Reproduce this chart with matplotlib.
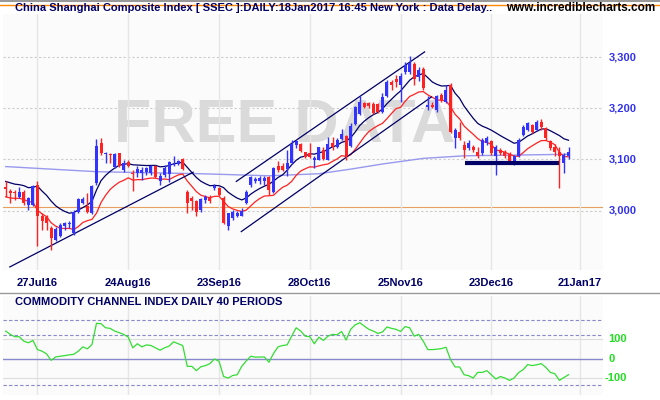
import matplotlib.pyplot as plt
from matplotlib.patches import Rectangle
import numpy as np

plt.rcParams['font.family'] = ['Liberation Sans', 'DejaVu Sans']

# daily OHLC, one row per trading day from 18Jul16 to 18Jan17
opens = [3047,3038,3037,3026,3037,3011,3011,3050,2990,2987,
         2966,2942,2950,2969,2974,2956,2998,3014,3009,2995,
         3054,3133,3110,3111,3086,3112,3080,3094,3074,3073,
         3073,3076,3073,3087,3057,3070,3072,3089,3091,3100,
         3037,3024,3018,3001,3020,3027,3044,3044,3024,2969,
         2985,2989,2990,3015,3050,3057,3057,3058,3065,3036,
         3087,3087,3081,3093,3128,3130,3114,3112,3099,3099,
         3119,3099,3132,3125,3140,3146,3126,3169,3189,3210,
         3211,3209,3209,3192,3223,3252,3258,3245,3271,3271,
         3286,3260,3277,3203,3206,3197,3226,3213,3245,3141,
         3154,3128,3122,3125,3115,3112,3132,3135,3106,3119,
         3115,3111,3093,3106,3148,3158,3167,3158,3174,3161,
         3135,3125,3115,3093,3106]
closes = [3043,3035,3035,3037,3014,3024,3048,2989,2979,2976,
          2946,2964,2972,2975,2976,2998,3022,3022,2998,3048,
          3126,3112,3112,3108,3110,3087,3093,3087,3072,3081,
          3080,3083,3087,3065,3068,3083,3094,3092,3096,3081,
          3014,3018,2998,3022,3027,3018,3048,3031,2976,2995,
          2997,2996,3000,3037,3065,3061,3063,3063,3041,3083,
          3080,3080,3093,3130,3135,3117,3104,3104,3102,3124,
          3101,3130,3125,3137,3150,3107,3165,3202,3213,3203,
          3204,3190,3192,3221,3252,3245,3252,3262,3284,3288,
          3258,3275,3239,3206,3203,3223,3216,3236,3154,3158,
          3141,3119,3132,3119,3106,3138,3141,3112,3125,3112,
          3106,3096,3106,3138,3164,3171,3154,3174,3164,3141,
          3122,3115,3106,3109,3115]
highs = [3057,3042,3040,3046,3040,3027,3050,3057,2995,2992,
         2969,2968,2975,2977,2979,3002,3024,3027,3034,3050,
         3139,3141,3115,3112,3112,3113,3099,3098,3079,3087,
         3086,3086,3089,3089,3073,3089,3096,3107,3099,3102,
         3040,3029,3021,3024,3031,3031,3052,3046,3028,2996,
         3002,3000,3005,3041,3067,3065,3067,3067,3068,3086,
         3096,3093,3119,3138,3138,3132,3115,3132,3107,3125,
         3124,3143,3144,3141,3159,3148,3171,3204,3223,3213,
         3213,3213,3211,3230,3255,3256,3265,3268,3291,3302,
         3291,3281,3281,3223,3213,3226,3229,3245,3249,3161,
         3174,3135,3138,3128,3125,3141,3145,3138,3128,3122,
         3119,3115,3109,3141,3167,3174,3169,3177,3178,3164,
         3138,3130,3125,3112,3125]
lows = [3027,3014,3021,3024,3011,3001,3009,2930,2963,2963,
        2923,2940,2948,2962,2966,2953,2995,3013,2996,2994,
        3050,3109,3093,3093,3083,3085,3076,3086,3039,3065,
        3060,3070,3070,3063,3050,3065,3055,3087,3089,3080,
        2996,3002,2990,2998,3015,3015,3041,3028,2974,2963,
        2982,2987,2989,3013,3047,3054,3052,3050,3031,3034,
        3076,3078,3068,3091,3122,3115,3102,3102,3083,3098,
        3099,3098,3119,3122,3137,3098,3124,3167,3187,3200,
        3200,3189,3190,3190,3221,3235,3242,3213,3266,3266,
        3245,3253,3236,3197,3200,3193,3213,3210,3151,3122,
        3138,3102,3119,3115,3102,3109,3128,3109,3070,3109,
        3102,3093,3090,3104,3145,3156,3152,3156,3158,3138,
        3119,3106,3044,3073,3100]
cci = [143,126,114,114,91,83,95,48,40,26,
       -7,10,14,17,21,24,40,62,52,74,
       183,181,160,157,143,135,126,112,57,78,
       62,72,69,57,45,57,66,88,78,69,
       -38,-38,-60,-40,-34,-24,0,-12,-90,-98,
       -85,-81,-38,-10,14,9,10,10,-17,28,
       62,69,72,117,160,143,117,114,78,112,
       95,117,126,124,141,97,152,175,186,169,
       152,143,131,138,164,157,152,141,166,160,
       117,126,91,48,48,50,53,60,-3,-41,
       -41,-81,-86,-98,-69,-69,-60,-81,-103,-90,
       -98,-110,-98,-70,-55,-29,-34,-30,-24,-43,
       -69,-76,-110,-95,-81]
# long moving average read at a few days
ma_days = [0, 20, 43, 58, 69, 76, 83, 92, 101, 124]
ma_vals = [3086, 3076, 3072, 3068, 3072, 3081, 3091, 3102, 3107, 3110]

tick_days = [7, 27, 47, 67, 87, 107, 126.5]
tick_labels = ["27Jul16", "24Aug16", "23Sep16", "28Oct16", "25Nov16", "23Dec16", "21Jan17"]

navy = "#000066"
blue = "#3333ff"
red = "#ff2222"

fig = plt.figure(figsize=(6.6, 4), dpi=100)
fig.patch.set_facecolor("white")
W, H = 660, 400
ax = fig.add_axes([3 / W, 1 - 270 / H, 600 / W, 256 / H])
ax2 = fig.add_axes([3 / W, 1 - 395 / H, 600 / W, 99 / H])
for a in (ax, ax2):
    a.set_facecolor("#fbfbfb")
    for s in a.spines.values():
        s.set_visible(False)
    a.set_xlim(-0.6, 131.6)
    a.set_xticks(tick_days)
    a.tick_params(length=0)
    a.grid(axis="x", color="#e6e6e6", lw=1)
    a.set_yticks([])

x = np.arange(len(closes))
o, c, h, l = map(np.array, (opens, closes, highs, lows))

# moving averages of highs and lows
def ema(v, n):
    out = [v[0]]
    k = 2 / (n + 1)
    for val in v[1:]:
        out.append(out[-1] + k * (val - out[-1]))
    return np.array(out)

ax.set_ylim(2884, 3384)
for lev in [3000, 3100, 3200, 3300]:
    ax.axhline(lev, color="#cccccc", lw=0.8, ls=(0, (2, 2)), zorder=0)
ax.text(0.47, 0.56, "FREE DATA", transform=ax.transAxes, ha="center", va="center",
        fontsize=44, fontweight="bold", color="#dadada", zorder=0)
ax.axhline(3007, color="#e8a060", lw=0.8, zorder=1)
ax.plot(ma_days, ma_vals, color="#9999ee", lw=1, zorder=2)
ax.plot(x, ema(h, 10), color=navy, lw=0.9, zorder=3)
ax.plot(x, ema(l, 10), color=red, lw=0.9, zorder=3)

for i in x:
    col = blue if c[i] >= o[i] else red
    ax.vlines(i, l[i], h[i], color=col, lw=1, zorder=4)
    lo, hi = min(o[i], c[i]), max(o[i], c[i])
    ax.add_patch(Rectangle((i - 0.33, lo), 0.66, max(hi - lo, 1.2), color=col, lw=0, zorder=5))

# trendlines
ax.plot([0.9, 41.3], [2890, 3075], color=navy, lw=0.9, zorder=3)
ax.plot([50.8, 92.3], [3057, 3310], color=navy, lw=0.9, zorder=3)
ax.plot([51.9, 93.8], [2959, 3222], color=navy, lw=0.9, zorder=3)
ax.plot([101.1, 121.9], [3093, 3093], color=navy, lw=3, solid_capstyle="butt", zorder=6)

ax.set_xticklabels(tick_labels, fontsize=8, fontweight="bold", color=navy)
ax.tick_params(axis="x", pad=6)
for lev in [3000, 3100, 3200, 3300]:
    ax.text(132.8, lev, f"{lev:,}", fontsize=8, fontweight="bold", color="#3333ee", va="center")

# CCI panel
ax2.set_ylim(-185, 323)
ax2.set_xticklabels([])
for lev in [200, 125, -135]:
    ax2.axhline(lev, color="#8888cc", lw=0.8, ls=(0, (3, 2)))
for lev in [100, -100]:
    ax2.axhline(lev, color="#dddddd", lw=0.8)
ax2.axhline(0, color="#8888cc", lw=1)
ax2.plot(x, cci, color="#33dd33", lw=0.9)
for lev, lab in [(100, "100"), (0, "0"), (-100, "-100")]:
    ax2.text(132.8 if lev >= 0 else 132.0, lev, lab, fontsize=8, fontweight="bold",
             color="#22dd22", va="center")
ax2.text(2, 290, "COMMODITY CHANNEL INDEX DAILY 40 PERIODS", fontsize=8,
         fontweight="bold", color=navy, va="center")

# header and separators
fig.add_artist(plt.Line2D([0, 1], [1 - 5 / H, 1 - 5 / H], color="#ff8800", lw=1))
fig.add_artist(plt.Line2D([0, 1], [1 - 293 / H, 1 - 293 / H], color="#999999", lw=1))
fig.add_artist(plt.Line2D([0, 1], [1 - 1 / H, 1 - 1 / H], color="#999999", lw=1.5))
fig.text(15 / W, 1 - 8 / H, "China Shanghai Composite Index [ SSEC ]:DAILY:18Jan2017 16:45 New York : Data Delay..",
         fontsize=8, fontweight="bold", color=navy, va="center")
fig.text(655 / W, 1 - 8 / H, "www.incrediblecharts.com", fontsize=8.5, fontweight="bold",
         color="black", va="center", ha="right")

fig.savefig("out.png", dpi=100)
